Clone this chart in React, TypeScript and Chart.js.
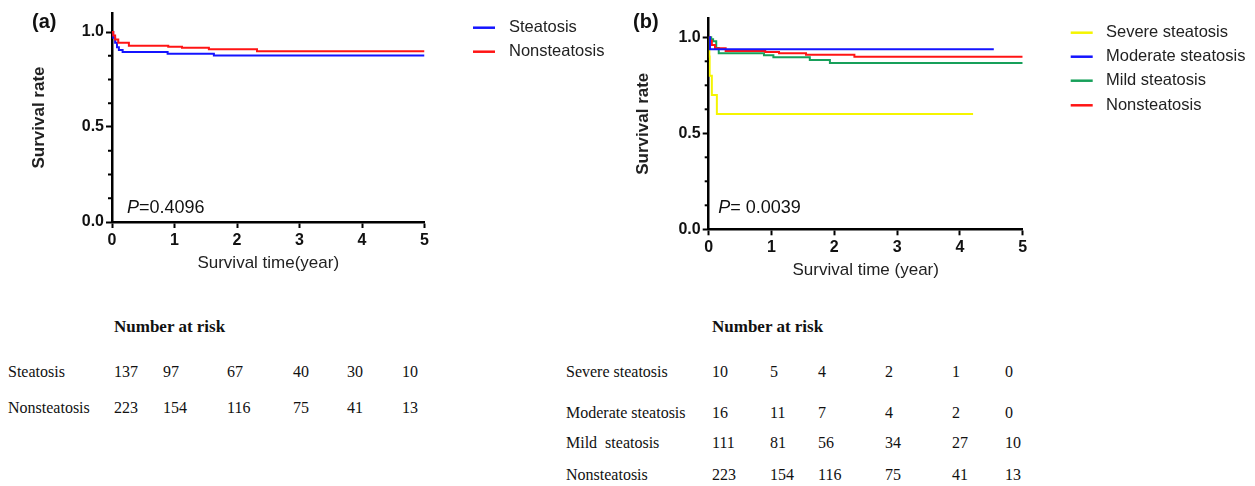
import React, { useEffect, useRef } from 'react';
import { Chart, registerables } from 'chart.js';

Chart.register(...registerables);

// ---------- Data ----------
// Panel (a): Kaplan–Meier curves (time in years, survival rate)
const steatosisTimes = [0, 0.02, 0.05, 0.08, 0.11, 0.17, 0.89, 1.63, 5];
const steatosisSurvival = [1, 0.97, 0.944, 0.92, 0.905, 0.895, 0.886, 0.876, 0.876];
const nonsteatosisTimes = [0, 0.02, 0.05, 0.1, 0.27, 0.9, 1.12, 1.55, 2.32, 5];
const nonsteatosisSurvival = [1, 0.982, 0.96, 0.943, 0.928, 0.923, 0.917, 0.909, 0.899, 0.899];

// Panel (b)
const severeTimes = [0, 0.01, 0.015, 0.05, 0.13, 4.21];
const severeSurvival = [1, 0.9, 0.8, 0.7, 0.6, 0.6];
const moderateTimes = [0, 0.02, 4.54];
const moderateSurvival = [1, 0.9375, 0.9375];
const mildTimes = [0, 0.04, 0.07, 0.12, 0.16, 0.88, 1.03, 1.61, 1.93, 5];
const mildSurvival = [1, 0.99, 0.979, 0.944, 0.917, 0.906, 0.896, 0.882, 0.866, 0.866];

// Axis ticks
const xTickValues = [0, 1, 2, 3, 4, 5];
const yTickValues = [0, 0.125, 0.25, 0.375, 0.5, 0.625, 0.75, 0.875, 1.0];

// Number at risk
const riskTitle = 'Number at risk';
const riskSteatosis = [137, 97, 67, 40, 30, 10];
const riskNonsteatosis = [223, 154, 116, 75, 41, 13];
const riskSevere = [10, 5, 4, 2, 1, 0];
const riskModerate = [16, 11, 7, 4, 2, 0];
const riskMild = [111, 81, 56, 34, 27, 10];

// ---------- Styles ----------
const COLORS = {
  blue: '#1414ff',
  red: '#ff1414',
  yellow: '#f5f500',
  green: '#17a05a',
};
const SANS = '"Liberation Sans", Arial, Helvetica, sans-serif';
const SERIF = '"Liberation Serif", "Times New Roman", Times, serif';

type Series = { label: string; color: string; times: number[]; surv: number[] };

type PanelCfg = {
  left: number;
  width: number;
  height: number;
  panelLabel: string;
  panelLabelX: number;
  panelLabelY: number;
  pRest: string;
  pX: number;
  pY: number;
  xTitle: string;
  legend: Series[];
  drawOrder: Series[];
  legendLineX: number;
  legendTextX: number;
  legendYs: number[];
  areaLeft: number;
  areaRight: number;
  areaTop: number;
  areaBottom: number;
  xTitlePadBottom: number;
  yTitlePadTop: number;
};

const isMajor = (v: number) => Math.abs(v - Math.round(v / 0.5) * 0.5) < 1e-9;

function KMPanel({ cfg }: { cfg: PanelCfg }) {
  const ref = useRef<HTMLCanvasElement>(null);
  useEffect(() => {
    const decor = {
      id: 'decor',
      afterDraw(chart: any) {
        const ctx = chart.ctx as CanvasRenderingContext2D;
        const yScale = chart.scales.y;
        const area = chart.chartArea;
        ctx.save();
        // minor ticks
        ctx.strokeStyle = '#000';
        ctx.lineWidth = 2;
        yTickValues.forEach((v) => {
          if (isMajor(v)) return;
          const py = yScale.getPixelForValue(v);
          ctx.beginPath();
          ctx.moveTo(area.left - 4, py);
          ctx.lineTo(area.left, py);
          ctx.stroke();
        });
        // panel label
        ctx.fillStyle = '#111';
        ctx.textBaseline = 'middle';
        ctx.textAlign = 'left';
        ctx.font = `bold 20px ${SANS}`;
        ctx.fillText(cfg.panelLabel, cfg.panelLabelX, cfg.panelLabelY);
        // P value
        ctx.font = `italic 18px ${SANS}`;
        ctx.fillText('P', cfg.pX, cfg.pY);
        const pw = ctx.measureText('P').width;
        ctx.font = `18px ${SANS}`;
        ctx.fillText(cfg.pRest, cfg.pX + pw, cfg.pY);
        // legend
        cfg.legend.forEach((s, i) => {
          const y = cfg.legendYs[i];
          ctx.strokeStyle = s.color;
          ctx.lineWidth = 2.5;
          ctx.beginPath();
          ctx.moveTo(cfg.legendLineX, y);
          ctx.lineTo(cfg.legendLineX + 22, y);
          ctx.stroke();
          ctx.fillStyle = '#222';
          ctx.font = `16.5px ${SANS}`;
          ctx.fillText(s.label, cfg.legendTextX, y);
        });
        ctx.restore();
      },
    };

    const chart = new Chart(ref.current as HTMLCanvasElement, {
      type: 'line',
      data: {
        datasets: cfg.drawOrder.map((s) => ({
          label: s.label,
          data: s.times.map((t, i) => ({ x: t, y: s.surv[i] })),
          borderColor: s.color,
          backgroundColor: s.color,
          borderWidth: 2,
          pointRadius: 0,
          stepped: 'before',
          fill: false,
        })),
      },
      options: {
        responsive: false,
        animation: false,
        events: [],
        layout: {
          padding: {
            left: 0,
            top: cfg.areaTop,
            right: cfg.width - cfg.areaRight,
            bottom: 0,
          },
        },
        plugins: {
          legend: { display: false },
          tooltip: { enabled: false },
        },
        scales: {
          x: {
            type: 'linear',
            min: 0,
            max: 5,
            bounds: 'data',
            afterBuildTicks: (ax: any) => {
              ax.ticks = xTickValues.map((v) => ({ value: v }));
            },
            afterFit: (ax: any) => {
              ax.height = cfg.height - cfg.areaBottom;
            },
            ticks: {
              autoSkip: false,
              maxRotation: 0,
              padding: 3,
              color: '#111',
              font: { family: SANS, size: 16, weight: 'bold' },
              callback: (v: any) => String(v),
            },
            grid: {
              display: true,
              drawOnChartArea: false,
              drawTicks: true,
              tickLength: 6,
              tickWidth: 2,
              tickColor: '#000',
              color: 'rgba(0,0,0,0)',
            },
            border: { display: true, color: '#000', width: 2.5 },
            title: {
              display: true,
              text: cfg.xTitle,
              color: '#222',
              font: { family: SANS, size: 17, weight: 'normal' },
              padding: { top: 0, bottom: cfg.xTitlePadBottom },
            },
          },
          y: {
            type: 'linear',
            min: 0,
            max: 1.1,
            bounds: 'data',
            afterBuildTicks: (ax: any) => {
              ax.ticks = yTickValues.map((v) => ({ value: v }));
            },
            afterFit: (ax: any) => {
              ax.width = cfg.areaLeft;
            },
            ticks: {
              autoSkip: false,
              padding: 2,
              color: '#111',
              font: { family: SANS, size: 16, weight: 'bold' },
              callback: (v: any) => (isMajor(Number(v)) ? Number(v).toFixed(1) : ''),
            },
            grid: {
              display: true,
              drawOnChartArea: false,
              drawTicks: true,
              tickLength: 6,
              tickWidth: 2,
              tickColor: (c: any) =>
                c.tick && isMajor(c.tick.value) ? '#000' : 'rgba(0,0,0,0)',
              color: 'rgba(0,0,0,0)',
            },
            border: { display: true, color: '#000', width: 2.5 },
            title: {
              display: true,
              text: 'Survival rate',
              color: '#222',
              font: { family: SANS, size: 17, weight: 'bold' },
              padding: { top: cfg.yTitlePadTop, bottom: 0 },
            },
          },
        },
      } as any,
      plugins: [decor],
    });
    return () => chart.destroy();
  }, [cfg]);

  return (
    <canvas
      ref={ref}
      width={cfg.width}
      height={cfg.height}
      style={{ position: 'absolute', left: cfg.left, top: 0, width: cfg.width, height: cfg.height }}
    />
  );
}

const steatosisSeries: Series = { label: 'Steatosis', color: COLORS.blue, times: steatosisTimes, surv: steatosisSurvival };
const nonsteatosisSeries: Series = { label: 'Nonsteatosis', color: COLORS.red, times: nonsteatosisTimes, surv: nonsteatosisSurvival };
const severeSeries: Series = { label: 'Severe steatosis', color: COLORS.yellow, times: severeTimes, surv: severeSurvival };
const moderateSeries: Series = { label: 'Moderate steatosis', color: COLORS.blue, times: moderateTimes, surv: moderateSurvival };
const mildSeries: Series = { label: 'Mild steatosis', color: COLORS.green, times: mildTimes, surv: mildSurvival };

const panelA: PanelCfg = {
  left: 0,
  width: 620,
  height: 300,
  panelLabel: '(a)',
  panelLabelX: 32,
  panelLabelY: 22,
  pRest: '=0.4096',
  pX: 127,
  pY: 208,
  xTitle: 'Survival time(year)',
  legend: [steatosisSeries, nonsteatosisSeries],
  drawOrder: [nonsteatosisSeries, steatosisSeries],
  legendLineX: 473,
  legendTextX: 509,
  legendYs: [27.7, 51.7],
  areaLeft: 112,
  areaRight: 424.5,
  areaTop: 13,
  areaBottom: 222,
  xTitlePadBottom: 26.3,
  yTitlePadTop: 28.8,
};

const panelB: PanelCfg = {
  left: 620,
  width: 635,
  height: 300,
  panelLabel: '(b)',
  panelLabelX: 13,
  panelLabelY: 22.3,
  pRest: '= 0.0039',
  pX: 98.3,
  pY: 208.3,
  xTitle: 'Survival time (year)',
  legend: [severeSeries, moderateSeries, mildSeries, nonsteatosisSeries],
  drawOrder: [moderateSeries, nonsteatosisSeries, mildSeries, severeSeries],
  legendLineX: 450.7,
  legendTextX: 486,
  legendYs: [32.7, 56.7, 80.7, 105.3],
  areaLeft: 88.7,
  areaRight: 402.7,
  areaTop: 18.1,
  areaBottom: 229.3,
  xTitlePadBottom: 19.8,
  yTitlePadTop: 12.8,
};

// Number-at-risk layout
const colsA = [114, 163, 227, 293, 347, 402];
const colsB = [712, 770, 818, 885, 952, 1005];

function Txt({ x, y, text, bold }: { x: number; y: number; text: string; bold?: boolean }) {
  return (
    <span
      style={{
        position: 'absolute',
        left: x,
        top: y - 10,
        lineHeight: '20px',
        fontFamily: SERIF,
        fontSize: bold ? 17 : 16,
        fontWeight: bold ? 'bold' : 'normal',
        color: '#111',
        whiteSpace: 'pre',
      }}
    >
      {text}
    </span>
  );
}

function RiskRow({ label, labelX, y, values, cols }: { label: string; labelX: number; y: number; values: number[]; cols: number[] }) {
  return (
    <>
      <Txt x={labelX} y={y} text={label} />
      {values.map((v, i) => (
        <Txt key={i} x={cols[i]} y={y} text={String(v)} />
      ))}
    </>
  );
}

export default function App() {
  return (
    <div
      style={{
        position: 'fixed',
        left: 0,
        top: 0,
        width: 1255,
        height: 486,
        background: '#fff',
        overflow: 'hidden',
      }}
    >
      <KMPanel cfg={panelA} />
      <KMPanel cfg={panelB} />

      <Txt x={114} y={326.7} text={riskTitle} bold />
      <RiskRow label="Steatosis" labelX={8} y={371.7} values={riskSteatosis} cols={colsA} />
      <RiskRow label="Nonsteatosis" labelX={8} y={408.3} values={riskNonsteatosis} cols={colsA} />

      <Txt x={712} y={326.7} text={riskTitle} bold />
      <RiskRow label="Severe steatosis" labelX={566} y={371.7} values={riskSevere} cols={colsB} />
      <RiskRow label="Moderate steatosis" labelX={566} y={413.3} values={riskModerate} cols={colsB} />
      <RiskRow label="Mild  steatosis" labelX={566} y={443.3} values={riskMild} cols={colsB} />
      <RiskRow label="Nonsteatosis" labelX={566} y={475} values={riskNonsteatosis} cols={colsB} />
    </div>
  );
}
